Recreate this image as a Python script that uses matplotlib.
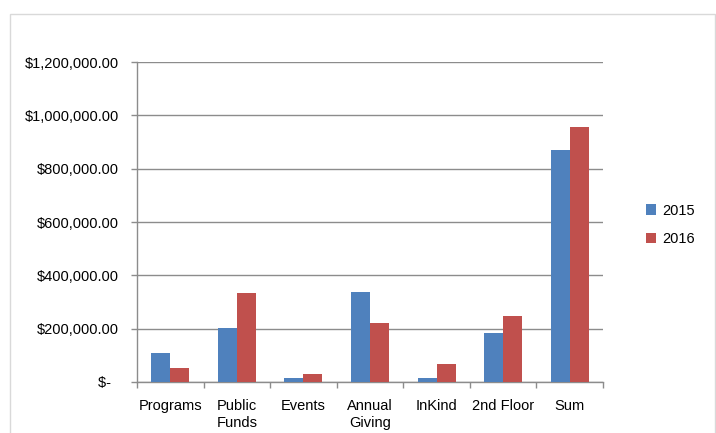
import matplotlib
matplotlib.use("Agg")
import matplotlib.pyplot as plt
import numpy as np
from matplotlib.patches import Rectangle, Patch

categories = ["Programs", "Public\nFunds", "Events", "Annual\nGiving", "InKind", "2nd Floor", "Sum"]
series_names = ["2015", "2016"]
values_2015 = [107500, 201000, 15000, 339000, 15000, 184000, 870000]
values_2016 = [51000, 332500, 30000, 220000, 66000, 247500, 957500]
yticks = [0, 200000, 400000, 600000, 800000, 1000000, 1200000]
ytick_labels = ["$-  ", "$200,000.00", "$400,000.00", "$600,000.00", "$800,000.00", "$1,000,000.00", "$1,200,000.00"]

colors = ["#4F81BD", "#C0504D"]
plt.rcParams['font.family'] = ['Liberation Sans', 'DejaVu Sans']

fig = plt.figure(figsize=(7.16, 4.33), dpi=100)
fig.patches.append(Rectangle((10/716, -0.01), 705/716, (433-14)/433 + 0.01, transform=fig.transFigure,
                             fill=False, edgecolor="#d9d9d9", linewidth=1.0))
ax = fig.add_axes([137/716, 51/433, 466/716, 320/433])

x = np.arange(len(categories))
w = 1/3.5
ax.bar(x - w/2, values_2015, w, color=colors[0], label=series_names[0], zorder=3)
ax.bar(x + w/2, values_2016, w, color=colors[1], label=series_names[1], zorder=3)

ax.set_xlim(-0.5, len(categories) - 0.5)
ax.set_ylim(0, 1200000)
ax.set_yticks(yticks)
ax.set_yticklabels(ytick_labels)
ax.yaxis.grid(True, color="#8c8c8c", linewidth=1.0, zorder=0)
ax.set_axisbelow(True)

ax.set_xticks(x)
ax.set_xticklabels(categories)
ax.set_xticks(np.arange(len(categories) + 1) - 0.5, minor=True)
ax.tick_params(axis='x', which='major', length=0, pad=12, labelsize=10.5)
ax.tick_params(axis='x', which='minor', length=4, color="#8c8c8c", width=1.0)
ax.tick_params(axis='y', length=4, color="#8c8c8c", width=1.0, pad=9, labelsize=10.5)
for lbl in ax.get_xticklabels():
    lbl.set_verticalalignment('top')
    lbl.set_linespacing(1.3)

for s in ["top", "right"]:
    ax.spines[s].set_visible(False)
for s in ["left", "bottom"]:
    ax.spines[s].set_color("#8c8c8c")
    ax.spines[s].set_linewidth(1.0)

handles = [Patch(facecolor=colors[0], label=series_names[0]), Patch(facecolor=colors[1], label=series_names[1])]
fig.legend(handles=handles, loc='center left', bbox_to_anchor=(646/716, 1 - 225/433), frameon=False,
           fontsize=10.5, handlelength=0.7, handleheight=0.7, handletextpad=0.4, labelspacing=1.0,
           borderpad=0, borderaxespad=0)

fig.savefig("out.png", dpi=100)
